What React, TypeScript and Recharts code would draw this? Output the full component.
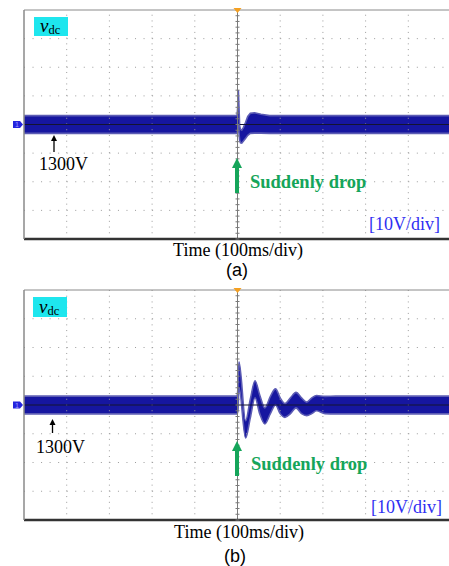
import React from 'react';
import {
  ComposedChart,
  Area,
  XAxis,
  YAxis,
  ReferenceLine,
  ReferenceDot,
  Scatter,
} from 'recharts';

// Graticule: 10 horizontal divisions of 100 ms, 8 vertical divisions of 10 V around 1300 V
const TIME_MAJOR = [100, 200, 300, 400, 600, 700, 800, 900];
const TIME_MINOR = Array.from({ length: 51 }, (_, i) => i * 20);
const VOLT_MAJOR = [1270, 1280, 1290, 1310, 1320, 1330];
const VOLT_MINOR = Array.from({ length: 41 }, (_, i) => 1260 + i * 2);

// (a) trace envelope (ms, V)
const A_TIME = [0, 499, 500.5, 502, 503.5, 505, 507, 510, 514, 519, 524, 530, 540, 555, 575, 1000];
const A_LOW = [1296.9, 1296.9, 1298, 1300, 1297, 1294.5, 1293.6, 1293.5, 1294.2, 1295.2, 1296.2, 1296.9, 1297, 1297, 1296.9, 1296.9];
const A_HIGH = [1303.1, 1303.1, 1306, 1312, 1306, 1299.5, 1298.3, 1298, 1299, 1300.8, 1302.8, 1303.9, 1304.1, 1303.6, 1303.1, 1303.1];

// (b) trace envelope (ms, V)
const B_TIME = [0, 499, 501, 503.5, 519, 530, 541, 552, 564, 577, 589, 600, 611, 624, 637, 650, 662, 674, 685, 705, 730, 1000];
const B_LOW = [1296.9, 1296.9, 1298, 1306, 1288.5, 1295.5, 1302.5, 1297, 1293.4, 1297, 1300, 1297, 1295.7, 1297, 1299, 1297, 1296.3, 1297, 1298, 1297, 1296.9, 1296.9];
const B_HIGH = [1303.1, 1303.1, 1306, 1315, 1294.5, 1302, 1308.4, 1303.5, 1299, 1303, 1305.6, 1302.5, 1300.5, 1302.5, 1304.4, 1302.5, 1301, 1302.5, 1303.3, 1303, 1303.1, 1303.1];

const buildRows = (t: number[], lo: number[], hi: number[]) =>
  t.map((x, i) => ({ t: x, band: [lo[i], hi[i]] }));

const CENTER_TICKS = VOLT_MINOR.map((v) => ({ t: 500, v }));

const SERIF = '"Liberation Serif", "Times New Roman", serif';
const SANS = '"Liberation Sans", Arial, sans-serif';
const GRID = '#9c9c9c';

function Scope({
  rows,
  top,
  height,
  bottom,
  curve,
}: {
  rows: any[];
  top: number;
  height: number;
  bottom: number;
  curve: 'linear' | 'monotone';
}) {
  return (
    <div style={{ position: 'absolute', left: 0, top, width: 449, height, overflow: 'hidden' }}>
      <ComposedChart width={452} height={height} data={rows} margin={{ top: 10, right: 1, bottom, left: 24 }}>
        <XAxis
          xAxisId="b"
          dataKey="t"
          type="number"
          domain={[0, 1000]}
          ticks={TIME_MINOR}
          orientation="bottom"
          mirror
          tick={false}
          tickSize={3}
          axisLine={{ stroke: '#333', strokeWidth: 2.5 }}
          tickLine={{ stroke: '#666' }}
        />
        <XAxis
          xAxisId="t"
          dataKey="t"
          type="number"
          domain={[0, 1000]}
          ticks={TIME_MINOR}
          orientation="top"
          mirror
          tick={false}
          tickSize={3}
          axisLine={{ stroke: '#8a8a8a' }}
          tickLine={{ stroke: '#8a8a8a' }}
        />
        <YAxis
          yAxisId="l"
          type="number"
          domain={[1260, 1340]}
          ticks={VOLT_MINOR}
          mirror
          tick={false}
          tickSize={3}
          axisLine={{ stroke: '#8a8a8a', strokeWidth: 1.5 }}
          tickLine={{ stroke: '#8a8a8a' }}
        />
        {VOLT_MAJOR.map((v) => (
          <ReferenceLine key={'h' + v} xAxisId="b" yAxisId="l" y={v} stroke={GRID} strokeDasharray="1 7.54" />
        ))}
        {TIME_MAJOR.map((t) => (
          <ReferenceLine key={'v' + t} xAxisId="b" yAxisId="l" x={t} stroke={GRID} strokeDasharray="1 4.725" />
        ))}
        <ReferenceLine xAxisId="b" yAxisId="l" x={500} stroke="#7a7a7a" />
        <Scatter
          xAxisId="b"
          yAxisId="l"
          data={CENTER_TICKS}
          dataKey="v"
          isAnimationActive={false}
          shape={(p: any) => (
            <line x1={p.cx - 2} x2={p.cx + 2} y1={p.cy} y2={p.cy} stroke="#7a7a7a" strokeWidth={1} />
          )}
        />
        <Area
          xAxisId="b"
          yAxisId="l"
          dataKey="band"
          type={curve}
          fill="#1616a0"
          fillOpacity={1}
          stroke="#5c5cb4"
          strokeWidth={1.6}
          dot={false}
          activeDot={false}
          isAnimationActive={false}
        />
        <ReferenceLine xAxisId="b" yAxisId="l" y={1300} stroke="#141430" />
        <ReferenceDot
          xAxisId="b"
          yAxisId="l"
          x={500}
          y={1340}
          shape={(p: any) => (
            <path d={`M${p.cx - 4},${p.cy - 2} L${p.cx + 4},${p.cy - 2} L${p.cx},${p.cy + 3} Z`} fill="#f5a020" />
          )}
        />
        <ReferenceDot
          xAxisId="b"
          yAxisId="l"
          x={0}
          y={1300}
          shape={(p: any) => (
            <g>
              <path
                d={`M${p.cx - 11},${p.cy - 3.5} L${p.cx - 4},${p.cy - 3.5} L${p.cx - 1},${p.cy} L${p.cx - 4},${p.cy + 3.5} L${p.cx - 11},${p.cy + 3.5} Z`}
                fill="#2424dd"
              />
              <text x={p.cx - 7} y={p.cy + 2.5} fontSize={7} fill="#9a9aff" textAnchor="middle" fontFamily={SANS}>
                1
              </text>
            </g>
          )}
        />
      </ComposedChart>
    </div>
  );
}

function Annotations() {
  const green = '#15a55a';
  return (
    <svg
      width={449}
      height={566}
      style={{ position: 'absolute', left: 0, top: 0, pointerEvents: 'none' }}
    >
      {/* panel (a) */}
      <rect x={34} y={17} width={34} height={19} fill="#1ee6ee" />
      <text x={40} y={31.5} fontFamily={SERIF} fill="#000">
        <tspan fontStyle="italic" fontSize={19}>v</tspan>
        <tspan fontSize={12.5} dy={2.5}>dc</tspan>
      </text>
      <line x1={54} y1={152} x2={54} y2={139} stroke="#000" strokeWidth={1.3} />
      <path d="M54,135 L51,141 L57,141 Z" fill="#000" />
      <text x={39} y={170} fontFamily={SERIF} fontSize={18} fill="#000">1300V</text>
      <rect x={235} y={166} width={4} height={27} fill={green} />
      <path d="M237,158 L232,168 L242,168 Z" fill={green} />
      <text x={250} y={188} fontFamily={SERIF} fontSize={18.5} fontWeight="bold" fill={green}>Suddenly drop</text>
      <text x={369} y={230} fontFamily={SERIF} fontSize={18} fill="#2f2ff2">[10V/div]</text>
      <text x={238} y={256} fontFamily={SERIF} fontSize={18} fill="#000" textAnchor="middle">Time (100ms/div)</text>
      <text x={237} y={276} fontFamily={SANS} fontSize={18} fill="#000" textAnchor="middle">(a)</text>

      {/* panel (b) */}
      <rect x={33} y={297} width={34} height={20} fill="#1ee6ee" />
      <text x={39} y={312.5} fontFamily={SERIF} fill="#000">
        <tspan fontStyle="italic" fontSize={19}>v</tspan>
        <tspan fontSize={12.5} dy={2.5}>dc</tspan>
      </text>
      <line x1={52.5} y1={433} x2={52.5} y2={423} stroke="#000" strokeWidth={1.3} />
      <path d="M52.5,419 L49.5,425 L55.5,425 Z" fill="#000" />
      <text x={36} y={452.5} fontFamily={SERIF} fontSize={18} fill="#000">1300V</text>
      <rect x={235} y={449} width={4} height={27} fill={green} />
      <path d="M237,441 L232,451 L242,451 Z" fill={green} />
      <text x={251} y={470} fontFamily={SERIF} fontSize={18.5} fontWeight="bold" fill={green}>Suddenly drop</text>
      <text x={371} y={513} fontFamily={SERIF} fontSize={18} fill="#2f2ff2">[10V/div]</text>
      <text x={239} y={537.5} fontFamily={SERIF} fontSize={18} fill="#000" textAnchor="middle">Time (100ms/div)</text>
      <text x={235} y={562} fontFamily={SANS} fontSize={18} fill="#000" textAnchor="middle">(b)</text>
    </svg>
  );
}

export default function App() {
  const rowsA = buildRows(A_TIME, A_LOW, A_HIGH);
  const rowsB = buildRows(B_TIME, B_LOW, B_HIGH);
  return (
    <div
      style={{
        position: 'absolute',
        left: 0,
        top: 0,
        width: 449,
        height: 566,
        background: '#fff',
        overflow: 'hidden',
      }}
    >
      <Scope rows={rowsA} top={0} height={243} bottom={4} curve="linear" />
      <Scope rows={rowsB} top={280} height={243} bottom={3} curve="monotone" />
      <Annotations />
    </div>
  );
}
